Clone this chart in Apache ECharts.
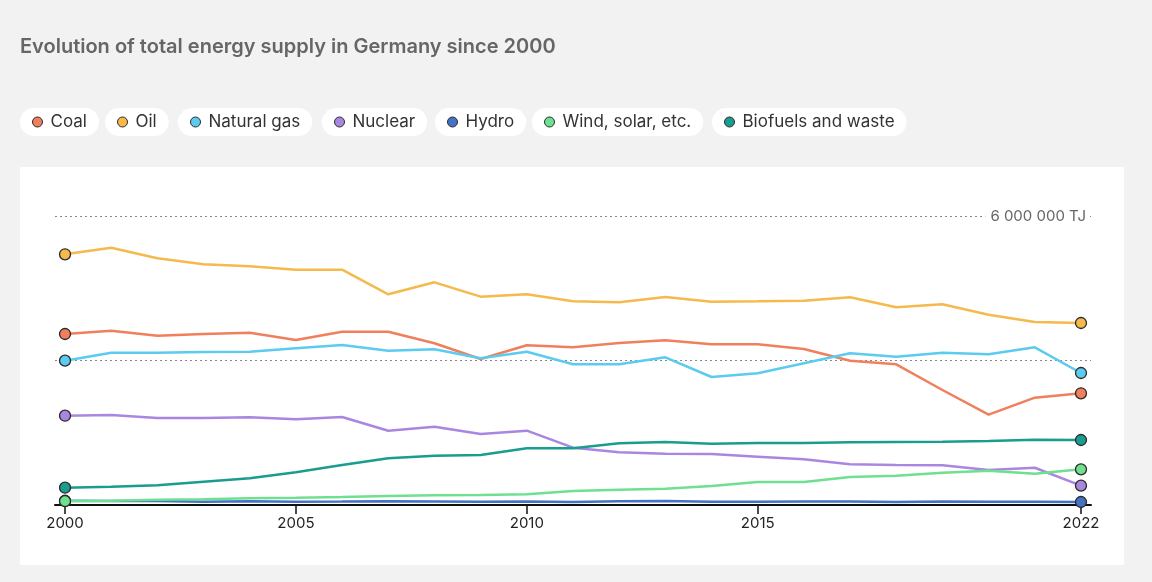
<!DOCTYPE html>
<html>
<head>
<meta charset="utf-8">
<script src="https://cdn.jsdelivr.net/npm/echarts@6/dist/echarts.min.js"></script>
<style>
html,body{margin:0;padding:0;background:#f2f2f2;}
#c{width:1152px;height:582px;}
</style>
</head>
<body>
<div id="c"></div>
<script>
const years = [2000,2001,2002,2003,2004,2005,2006,2007,2008,2009,2010,2011,2012,2013,2014,2015,2016,2017,2018,2019,2020,2021,2022];
const tickYears = [2000,2005,2010,2015,2022];
const coal = [3550000,3619000,3515000,3550000,3577000,3426000,3598000,3598000,3357000,3031000,3316000,3274000,3363000,3419000,3336000,3336000,3239000,2996000,2921000,2388000,1875000,2228000,2319000];
const oil = [5205000,5342000,5122000,4997000,4956000,4885000,4885000,4374000,4623000,4325000,4374000,4229000,4208000,4318000,4221000,4229000,4241000,4312000,4104000,4167000,3951000,3799000,3779000];
const gas = [2996000,3162000,3162000,3176000,3183000,3253000,3322000,3203000,3233000,3046000,3183000,2921000,2921000,3066000,2657000,2734000,2942000,3149000,3079000,3162000,3129000,3274000,2740000];
const nuclear = [1854000,1868000,1806000,1806000,1821000,1779000,1827000,1543000,1626000,1474000,1543000,1190000,1094000,1065000,1059000,1003000,949000,845000,830000,824000,727000,774000,401000];
const hydro = [88000,82000,83000,70000,76000,70000,72000,76000,74000,68000,75000,64000,78000,82000,70000,68000,74000,72000,64000,72000,66000,70000,62000];
const wind = [80000,90000,110000,120000,140000,150000,165000,187000,201000,208000,222000,291000,318000,338000,394000,478000,478000,581000,608000,671000,712000,650000,741000];
const bio = [359000,380000,409000,484000,554000,679000,830000,970000,1024000,1038000,1177000,1177000,1281000,1308000,1273000,1287000,1287000,1302000,1308000,1314000,1329000,1356000,1349000];
const names = ['Coal','Oil','Natural gas','Nuclear','Hydro','Wind, solar, etc.','Biofuels and waste'];
const colors = ['#f07f5c','#f5b94c','#5bcbef','#a987e0','#4472c4','#6fe08f','#1a9c8f'];
const values = [coal, oil, gas, nuclear, hydro, wind, bio];
const legendLeft = [20,105,178,322,435,532,712];

const chart = echarts.init(document.getElementById('c'));
const FONT = 'Inter, "Noto Sans", sans-serif';
const last = years.length - 1;

const series = names.map((n,i)=>({
  name:n, type:'line',
  data: years.map((y,j)=>[y, values[i][j]]),
  color: colors[i],
  lineStyle:{width:2.5, color:colors[i]},
  symbol:(v,p)=> (p.dataIndex===0||p.dataIndex===last)?'circle':'none',
  symbolSize:11,
  showAllSymbol:true,
  itemStyle:{color:colors[i], borderColor:'#2a2a2a', borderWidth:1.3},
  emphasis:{disabled:true},
  animation:false,
  z: 2+i
}));

const legends = names.map((n,i)=>({
  data:[n], left:legendLeft[i], top:108,
  backgroundColor:'#fff', borderRadius:14, padding:[5,12],
  icon:'circle', itemWidth:10, itemHeight:10, itemGap:0,
  selectedMode:false,
  itemStyle:{borderColor:'#2a2a2a', borderWidth:1},
  textStyle:{fontFamily:FONT, fontSize:17, lineHeight:18, color:'#333', padding:[0,0,0,3]}
}));

chart.setOption({
  backgroundColor:'#f2f2f2',
  animation:false,
  title:{text:'Evolution of total energy supply in Germany since 2000', left:15, top:32,
    textStyle:{fontFamily:FONT, fontSize:20, fontWeight:600, color:'#666'}},
  legend: legends,
  graphic:[{type:'rect', shape:{x:20,y:167,width:1104,height:398}, style:{fill:'#fff'}, z:-10, silent:true}],
  grid:{left:55, right:61, top:216, bottom:77, containLabel:false},
  xAxis:{type:'value', min:1999.783, max:2022.217,
    axisLine:{show:true, onZero:false, lineStyle:{color:'#111', width:2}},
    axisTick:{show:true, customValues:tickYears, length:9, lineStyle:{color:'#111', width:1.5}},
    axisLabel:{customValues:tickYears, fontFamily:FONT, fontSize:15, color:'#222', margin:11, formatter:v=>String(v)},
    splitLine:{show:false}},
  yAxis:{type:'value', min:0, max:6000000, interval:3000000, position:'right',
    axisLine:{show:false}, axisTick:{show:false},
    axisLabel:{inside:true, margin:3, fontFamily:FONT, fontSize:15, color:'#666', backgroundColor:'#fff', padding:[0,2,0,5],
      formatter:v=> v===6000000 ? '6 000 000 TJ' : ''},
    splitLine:{show:true, lineStyle:{color:'#888', type:[2,3], width:1}}},
  series: series
});
</script>
</body>
</html>
